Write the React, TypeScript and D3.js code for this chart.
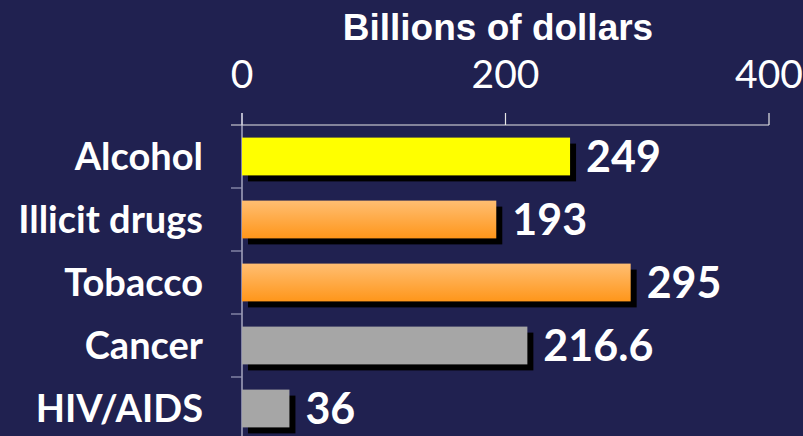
import React from "react";
import * as d3 from "d3";

const categories = ["Alcohol", "Illicit drugs", "Tobacco", "Cancer", "HIV/AIDS"];
const values = [249, 193, 295, 216.6, 36];
const valueLabels = ["249", "193", "295", "216.6", "36"];
const fills = ["#ffff00", "url(#orangeGrad)", "url(#orangeGrad)", "#a6a6a6", "#a6a6a6"];
const ticks = [0, 200, 400];

const W = 803;
const H = 436;

export default function App() {
  const x = d3.scaleLinear().domain([0, 400]).range([242, 769]);
  const y = d3.scaleBand<string>().domain(categories).range([125, 440]).paddingInner(0.4).paddingOuter(0.2);
  const bw = y.bandwidth();
  const step = y.step();
  const axisY = 125;
  return (
    <svg width={W} height={H} style={{ position: "absolute", left: 0, top: 0, display: "block" }}>
      <defs>
        <linearGradient id="orangeGrad" x1="0" y1="0" x2="0" y2="1">
          <stop offset="0" stopColor="#ffbe72" />
          <stop offset="1" stopColor="#ff961a" />
        </linearGradient>
      </defs>
      <rect x={0} y={0} width={W} height={H} fill="#202150" />
      <text x={498} y={40} textAnchor="middle" fill="#fff" fontFamily="Liberation Sans, Arial, sans-serif" fontWeight="bold" fontSize={37}>
        Billions of dollars
      </text>
      {ticks.map((t) => (
        <g key={t}>
          <text x={x(t)} y={88} textAnchor="middle" fill="#fff" fontFamily="Lato, sans-serif" fontSize={39}>
            {t}
          </text>
          <line x1={x(t)} x2={x(t)} y1={axisY - 12} y2={axisY} stroke="#e6e6e6" strokeWidth={1.2} />
        </g>
      ))}
      <line x1={231} x2={x(400)} y1={axisY} y2={axisY} stroke="#e6e6e6" strokeWidth={1.2} />
      <line x1={x(0)} x2={x(0)} y1={axisY - 12} y2={H} stroke="#c8c8dc" strokeWidth={1.2} />
      {categories.slice(1).map((c) => {
        const yy = (y(c) as number) - step * 0.2;
        return <line key={c} x1={231} x2={x(0)} y1={yy} y2={yy} stroke="#9a9ab8" strokeWidth={1.2} />;
      })}
      {categories.map((c, i) => {
        const y0 = y(c) as number;
        const x1 = x(values[i]);
        return (
          <g key={c}>
            <rect x={x(0) + 6} y={y0 + 6} width={x1 - x(0)} height={bw} fill="#000" />
            <rect x={x(0)} y={y0} width={x1 - x(0)} height={bw} fill={fills[i]} />
            <text x={x1 + 16} y={y0 + bw / 2 + 15} fill="#fff" fontFamily="Lato, sans-serif" fontWeight="bold" fontSize={43}>
              {valueLabels[i]}
            </text>
            <text x={203} y={y0 + bw / 2 + 13} textAnchor="end" fill="#fff" fontFamily="Lato, sans-serif" fontWeight="bold" fontSize={38}>
              {c}
            </text>
          </g>
        );
      })}
    </svg>
  );
}
